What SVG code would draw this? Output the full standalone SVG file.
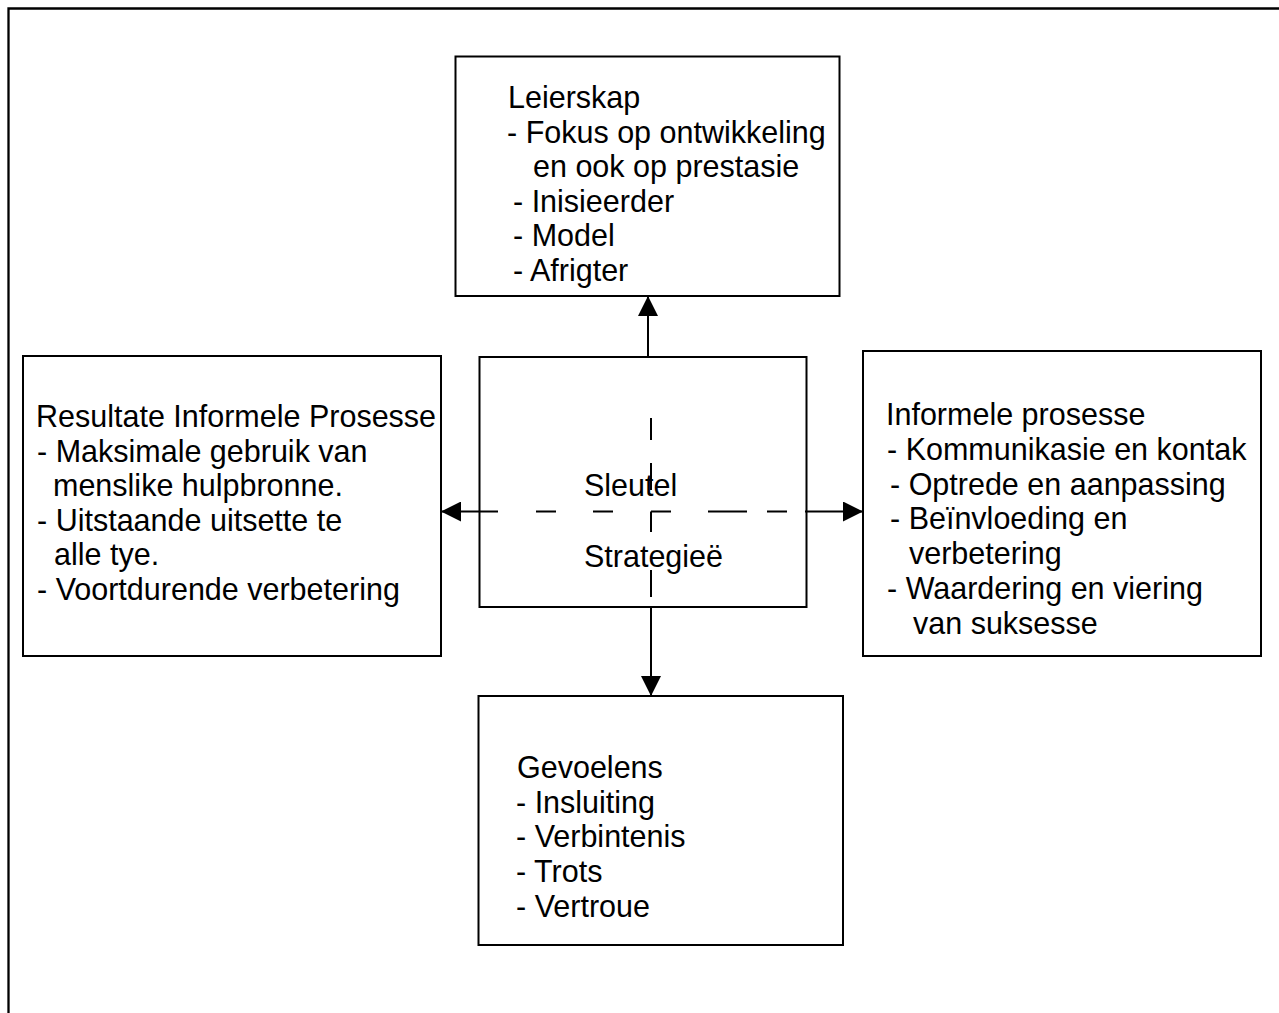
<svg xmlns="http://www.w3.org/2000/svg" width="1279" height="1013" viewBox="0 0 1279 1013">
<style>
.box{fill:#fff;stroke:#000;stroke-width:2}
.t{font-family:"Liberation Sans",Arial,sans-serif;font-size:30.5px;fill:#000}
.ln{stroke:#000;stroke-width:2;fill:none}
</style>
<defs>
<marker id="ah" viewBox="0 0 20 20" refX="20" refY="10" markerWidth="20" markerHeight="20" markerUnits="userSpaceOnUse" orient="auto">
<path d="M0,0 L20,10 L0,20 z" fill="#000"/>
</marker>
</defs>
<rect width="1279" height="1013" fill="#fff"/>
<g id="frame"><path d="M8.5,1013 L8.5,8.5 L1279,8.5" fill="none" stroke="#000" stroke-width="2.3"/></g>

<g id="leierskap">
<rect class="box" x="455.5" y="56.5" width="384" height="239.5"/>
<text class="t" x="508" y="108">Leierskap</text>
<text class="t" x="507" y="142.5">- Fokus op ontwikkeling</text>
<text class="t" x="533" y="177">en ook op prestasie</text>
<text class="t" x="513" y="211.5">- Inisieerder</text>
<text class="t" x="513" y="246">- Model</text>
<text class="t" x="513" y="280.5">- Afrigter</text>
</g>

<g id="resultate">
<rect class="box" x="23" y="356" width="418" height="300"/>
<text class="t" x="36" y="427">Resultate Informele Prosesse</text>
<text class="t" x="37" y="461.5">- Maksimale gebruik van</text>
<text class="t" x="53" y="496">menslike hulpbronne.</text>
<text class="t" x="37" y="530.5">- Uitstaande uitsette te</text>
<text class="t" x="54" y="565">alle tye.</text>
<text class="t" x="37" y="599.5">- Voortdurende verbetering</text>
</g>

<g id="informele">
<rect class="box" x="863" y="351" width="398" height="305"/>
<text class="t" x="886" y="425">Informele prosesse</text>
<text class="t" x="887" y="459.8">- Kommunikasie en kontak</text>
<text class="t" x="890" y="494.5">- Optrede en aanpassing</text>
<text class="t" x="890" y="529.3">- Beïnvloeding en</text>
<text class="t" x="909" y="564">verbetering</text>
<text class="t" x="887" y="598.8">- Waardering en viering</text>
<text class="t" x="913" y="633.5">van suksesse</text>
</g>

<g id="gevoelens">
<rect class="box" x="478.5" y="696" width="364.5" height="249"/>
<text class="t" x="517" y="778">Gevoelens</text>
<text class="t" x="516" y="812.7">- Insluiting</text>
<text class="t" x="516" y="847.4">- Verbintenis</text>
<text class="t" x="516" y="882">- Trots</text>
<text class="t" x="516" y="916.8">- Vertroue</text>
</g>

<g id="sleutel">
<rect class="box" x="479.5" y="357" width="327" height="250"/>
<text class="t" x="584" y="496">Sleutel</text>
<text class="t" x="584" y="567">Strategieë</text>
</g>

<g id="connectors">
<line class="ln" x1="648" y1="357" x2="648" y2="296" marker-end="url(#ah)"/>
<line class="ln" x1="651" y1="607" x2="651" y2="696" marker-end="url(#ah)"/>
<line class="ln" x1="498" y1="511.5" x2="441" y2="511.5" marker-end="url(#ah)"/>
<line class="ln" x1="805" y1="511.5" x2="863" y2="511.5" marker-end="url(#ah)"/>
<path class="ln" d="M536,511.5 H556 M593,511.5 H613 M651,511.5 H671 M708,511.5 H747 M767,511.5 H787 M651,418 V440 M651,463 V490 M651,511.5 V532 M651,570 V597"/>
</g>
</svg>
